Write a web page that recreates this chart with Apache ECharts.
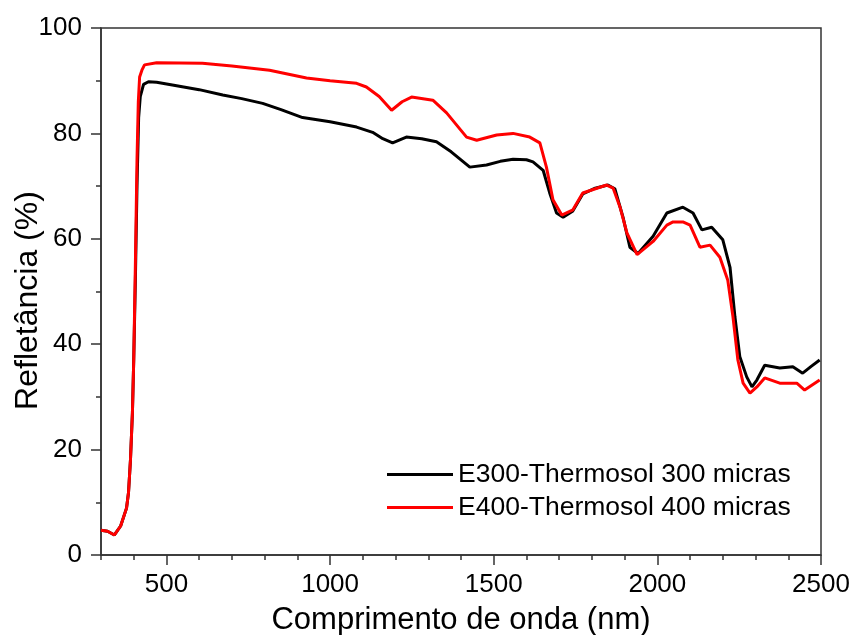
<!DOCTYPE html>
<html lang="pt">
<head>
<meta charset="UTF-8">
<title>Refletância</title>
<script src="https://cdn.jsdelivr.net/npm/echarts@6/dist/echarts.min.js"></script>
<style>
  html, body { margin: 0; padding: 0; background: #fff; }
  #chart { width: 857px; height: 635px; }
</style>
</head>
<body>
<div id="chart"></div>
<script>
// E300-Thermosol 300 micras (preto)
var wlE300 = [300, 320, 341, 360, 378, 384, 390, 396, 400, 405, 410, 415, 420, 430, 445, 470, 518, 600, 672, 730, 794, 850, 916, 1000, 1081, 1130, 1161, 1191, 1233, 1280, 1325, 1370, 1427, 1478, 1520, 1559, 1600, 1620, 1651, 1671, 1692, 1712, 1742, 1772, 1810, 1849, 1870, 1895, 1916, 1941, 1987, 2029, 2078, 2109, 2136, 2166, 2200, 2222, 2237, 2252, 2273, 2289, 2304, 2328, 2374, 2414, 2444, 2470, 2496];
var refE300 = [4.7, 4.5, 3.8, 5.5, 8.9, 11.8, 18, 27, 37, 52, 70, 83, 87, 89.3, 89.8, 89.7, 89.2, 88.3, 87.3, 86.6, 85.7, 84.5, 83, 82.2, 81.2, 80.2, 79, 78.2, 79.3, 79, 78.4, 76.5, 73.6, 74, 74.7, 75.1, 75, 74.6, 73, 68.7, 64.9, 64.1, 65.3, 68.5, 69.6, 70.2, 69.5, 64.1, 58.4, 57.2, 60.5, 64.9, 66, 64.9, 61.7, 62.2, 59.8, 54.6, 45.2, 37.6, 33.8, 31.9, 33.2, 36, 35.5, 35.7, 34.5, 35.8, 37];

// E400-Thermosol 400 micras (vermelho)
var wlE400 = [300, 320, 341, 360, 378, 384, 390, 396, 400, 405, 410, 414, 418, 425, 433, 470, 610, 700, 815, 928, 1000, 1081, 1111, 1150, 1188, 1220, 1249, 1314, 1356, 1417, 1448, 1509, 1559, 1610, 1641, 1661, 1681, 1708, 1742, 1772, 1845, 1865, 1886, 1907, 1938, 1987, 2029, 2048, 2078, 2100, 2130, 2161, 2191, 2215, 2231, 2246, 2262, 2283, 2304, 2328, 2374, 2426, 2450, 2496];
var refE400 = [4.7, 4.5, 3.8, 5.5, 8.9, 11.8, 18, 27, 37, 55, 75, 86, 90.7, 92, 93, 93.4, 93.3, 92.8, 92, 90.5, 90, 89.5, 88.8, 87, 84.4, 86, 86.9, 86.3, 83.9, 79.3, 78.7, 79.7, 80, 79.3, 78.2, 73.6, 67.4, 64.5, 65.5, 68.7, 70.2, 69.6, 66, 61.1, 57, 59.5, 62.6, 63.2, 63.2, 62.6, 58.4, 58.8, 56.5, 52.2, 45.2, 37, 32.6, 30.7, 31.9, 33.6, 32.6, 32.6, 31.3, 33.2];

var majorX = [500, 1000, 1500, 2000, 2500];
var minorX = [];
for (var v = 300; v <= 2500; v += 100) minorX.push(v);

function pairs(xs, ys) {
  var out = [];
  for (var i = 0; i < xs.length; i++) out.push([xs[i], ys[i]]);
  return out;
}

var font = 'Liberation Sans, Arial, sans-serif';
var axisCol = '#333';

var chart = echarts.init(document.getElementById('chart'));
chart.setOption({
  animation: false,
  grid: {
    left: 101, right: 36, top: 28, bottom: 80,
    outerBoundsMode: 'none', containLabel: false,
    show: true, borderColor: axisCol, borderWidth: 1.5, backgroundColor: 'transparent'
  },
  legend: {
    orient: 'vertical',
    left: 387, top: 461, padding: 0,
    icon: 'rect',
    itemWidth: 66, itemHeight: 3, itemGap: 6,
    textStyle: { fontFamily: font, fontSize: 26.5, color: '#000', lineHeight: 26 },
    data: ['E300-Thermosol 300 micras', 'E400-Thermosol 400 micras']
  },
  xAxis: [{
    type: 'value', min: 300, max: 2500,
    name: 'Comprimento de onda (nm)', nameLocation: 'middle', nameGap: 50,
    nameTextStyle: { fontFamily: font, fontSize: 31, color: '#000' },
    axisLine: { lineStyle: { color: axisCol, width: 1.5 } },
    axisTick: { customValues: majorX, length: 10, lineStyle: { color: axisCol, width: 1.5 } },
    axisLabel: {
      customValues: majorX, margin: 17, fontFamily: font, fontSize: 26, color: '#000',
      formatter: function (val) { return String(val); }
    },
    splitLine: { show: false }
  }, {
    type: 'value', min: 300, max: 2500, position: 'bottom',
    axisLine: { show: false },
    axisTick: { customValues: minorX, length: 5, lineStyle: { color: axisCol, width: 1.5 } },
    axisLabel: { show: false },
    splitLine: { show: false }
  }],
  yAxis: {
    type: 'value', min: 0, max: 100, interval: 20,
    name: 'Refletância (%)', nameLocation: 'middle', nameGap: 73, nameMoveOverlap: false,
    nameTextStyle: { fontFamily: font, fontSize: 32, color: '#000', verticalAlign: 'middle', padding: [0, 18, 0, 0] },
    axisLine: { show: true, lineStyle: { color: axisCol, width: 1.5 } },
    axisTick: { show: true, length: 10, lineStyle: { color: axisCol, width: 1.5 } },
    minorTick: { show: true, splitNumber: 2, length: 5, lineStyle: { color: axisCol, width: 1.5 } },
    axisLabel: { margin: 19, fontFamily: font, fontSize: 26, color: '#000', padding: [0, 0, 7, 0] },
    splitLine: { show: false }
  },
  series: [{
    name: 'E300-Thermosol 300 micras',
    type: 'line', showSymbol: false, symbol: 'none',
    data: pairs(wlE300, refE300),
    lineStyle: { color: '#000', width: 3 },
    itemStyle: { color: '#000' }
  }, {
    name: 'E400-Thermosol 400 micras',
    type: 'line', showSymbol: false, symbol: 'none',
    data: pairs(wlE400, refE400),
    lineStyle: { color: '#ff0000', width: 3 },
    itemStyle: { color: '#ff0000' }
  }]
});
</script>
</body>
</html>
